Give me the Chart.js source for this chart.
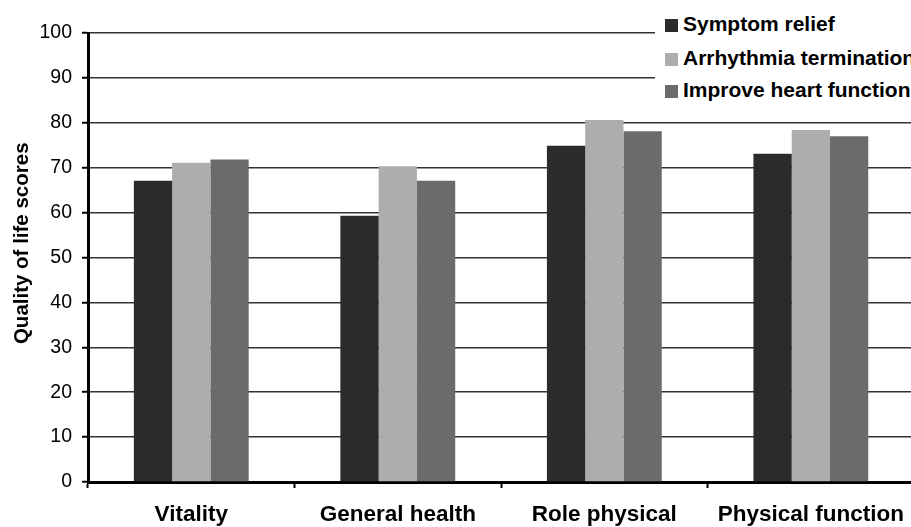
<!DOCTYPE html>
<html>
<head>
<meta charset="utf-8">
<script src="https://cdn.jsdelivr.net/npm/chart.js@4/dist/chart.umd.min.js"></script>
<style>
  html, body { margin: 0; padding: 0; background: #fff; overflow: hidden; }
  #wrap { position: relative; width: 917px; height: 527px; }
  #legend {
    position: absolute; left: 655px; top: 0; width: 262px; height: 106px;
    background: #fff; font-family: "Liberation Sans", Arial, sans-serif;
    font-weight: bold; font-size: 21px; color: #000;
  }
  .item { position: absolute; left: 10px; height: 24px; line-height: 24px; white-space: nowrap; }
  .box { display: inline-block; width: 13px; height: 13px; margin-right: 5px; vertical-align: -1px; }
</style>
</head>
<body>
<div id="wrap">
  <canvas id="chart"></canvas>
  <div id="legend"></div>
</div>
<script>
const categories = ['Vitality', 'General health', 'Role physical', 'Physical function'];
const seriesNames = ['Symptom relief', 'Arrhythmia termination', 'Improve heart function'];
const symptomRelief = [67.1, 59.3, 74.9, 73.1];
const arrhythmiaTermination = [71.1, 70.3, 80.6, 78.4];
const improveHeartFunction = [71.8, 67.1, 78.1, 77.0];
const colours = ['#2b2b2b', '#adadad', '#6b6b6b'];

const values = [symptomRelief, arrhythmiaTermination, improveHeartFunction];

// legend drawn as html on a white box, like the original covers the top grid lines
const legendTops = [12, 46, 78];
const legend = document.getElementById('legend');
seriesNames.forEach((name, i) => {
    const el = document.createElement('div');
    el.className = 'item';
    el.style.top = legendTops[i] + 'px';
    el.innerHTML = `<span class="box" style="background:${colours[i]}"></span>${name}`;
    legend.appendChild(el);
});

const ctx = document.getElementById('chart').getContext('2d');
new Chart(ctx, {
    type: 'bar',
    data: {
        labels: categories,
        datasets: seriesNames.map((name, i) => ({
            label: name,
            data: values[i],
            backgroundColor: colours[i],
            borderWidth: 0,
            categoryPercentage: 0.556,
            barPercentage: 1.0
        }))
    },
    options: {
        responsive: true,
        maintainAspectRatio: false,
        animation: false,
        layout: { padding: { top: 33, right: 0, left: 0, bottom: 0 } },
        plugins: { legend: { display: false }, tooltip: { enabled: false } },
        scales: {
            x: {
                grid: { display: true, drawOnChartArea: false, drawTicks: true, tickLength: 6, tickColor: '#000', tickWidth: 2, offset: true },
                border: { color: '#000', width: 3 },
                ticks: {
                    color: '#000', padding: 13, maxRotation: 0, autoSkip: false,
                    font: { family: 'Liberation Sans', size: 22.5, weight: 'bold' }
                },
                afterFit: (scale) => { scale.height = 45; }
            },
            y: {
                min: 0, max: 100,
                ticks: {
                    stepSize: 10, color: '#000', padding: 10,
                    font: { family: 'Liberation Sans', size: 19.5 }
                },
                grid: { color: '#333', lineWidth: 1.5, tickLength: 6, tickColor: '#000', tickWidth: 2 },
                border: { color: '#000', width: 3 },
                title: {
                    display: true, text: '     Quality of life scores', color: '#000',
                    padding: { top: 10, bottom: 4 },
                    font: { family: 'Liberation Sans', size: 20.5, weight: 'bold' }
                },
                afterFit: (scale) => { scale.width = 88; }
            }
        }
    }
});
</script>
</body>
</html>
